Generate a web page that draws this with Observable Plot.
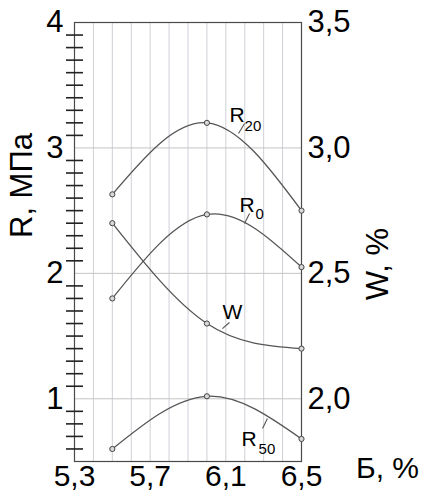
<!DOCTYPE html>
<html>
<head>
<meta charset="utf-8">
<script src="https://cdn.jsdelivr.net/npm/d3@7"></script>
<script src="https://cdn.jsdelivr.net/npm/@observablehq/plot@0.6"></script>
<style>
  html, body { margin: 0; padding: 0; background: #fff; }
  svg { display: block; }
</style>
</head>
<body>
<div id="chart"></div>
<script>
// Binder content Б, %
const bValues = [5.5, 6.0, 6.5];
// Strength R, MPa
const r20 = [2.63, 3.20, 2.50];
const r0 = [1.80, 2.47, 2.05];
const r50 = [0.60, 1.02, 0.68];
// Water absorption W, %
const wValues = [2.70, 2.30, 2.20];

// Axis ticks
const xTickLabels = [5.3, 5.7, 6.1, 6.5];
const xGrid = [5.4, 5.5, 5.6, 5.7, 5.8, 5.9, 6.0, 6.1, 6.2, 6.3, 6.4];
const rTicks = [1, 2, 3, 4];
const rMinorTicks = [0.6,0.7,0.8,0.9,1.1,1.2,1.3,1.4,1.5,1.6,1.7,1.8,1.9,2.1,2.2,2.3,2.4,2.5,2.6,2.7,2.8,2.9,3.1,3.2,3.3,3.4,3.5,3.6,3.7,3.8,3.9];
const wTicks = [2.0, 2.5, 3.0, 3.5];
const rGrid = [1, 2, 3];

// Curve label annotations (data units: x = Б, y = R scale)
const labelMain = [
  {t: "R", x: 6.119, y: 3.259},
  {t: "R", x: 6.172, y: 2.541},
  {t: "W", x: 6.082, y: 1.692},
  {t: "R", x: 6.183, y: 0.679}
];
const labelSub = [
  {t: "20", x: 6.199, y: 3.175},
  {t: "0", x: 6.257, y: 2.470},
  {t: "50", x: 6.273, y: 0.600}
];
const leaders = [
  {x1: 6.167, y1: 3.115, x2: 6.199, y2: 3.195},
  {x1: 6.199, y1: 2.397, x2: 6.225, y2: 2.477},
  {x1: 6.082, y1: 1.560, x2: 6.119, y2: 1.608},
  {x1: 6.320, y1: 0.843, x2: 6.294, y2: 0.763}
];

// W is drawn on the shared vertical scale: R = 2·W − 3 (W 2,0 ↔ R 1; W 3,5 ↔ R 4)
const wToR = w => 2 * w - 3;
const rToW = r => (r + 3) / 2;
const comma = (v, digits) => v.toFixed(digits).replace(".", ",");

const series = [
  ...bValues.map((b, i) => ({s: "R20", b, v: r20[i]})),
  ...bValues.map((b, i) => ({s: "R0", b, v: r0[i]})),
  ...bValues.map((b, i) => ({s: "R50", b, v: r50[i]})),
  ...bValues.map((b, i) => ({s: "W", b, v: wToR(wValues[i])}))
];

const lineColor = "#555";
const font = "'Liberation Sans', Arial, sans-serif";

const chart = Plot.plot({
  width: 424,
  height: 494,
  marginLeft: 74,
  marginRight: 123,
  marginTop: 22,
  marginBottom: 33,
  style: {fontFamily: font, background: "#fff", color: "#000"},
  x: {domain: [5.3, 6.5], label: null},
  y: {domain: [0.5, 4], label: null},
  marks: [
    Plot.gridX(xGrid, {stroke: "#cdd0d6", strokeOpacity: 1, strokeWidth: 1}),
    Plot.gridY(rGrid, {stroke: "#c4c4c4", strokeOpacity: 1, strokeWidth: 1}),
    Plot.frame({stroke: "#4a4a4a", strokeWidth: 1.2}),
    // short minor ticks crossing the left axis (frame width 227 px)
    Plot.tickY(rMinorTicks, {y: d => d, dx: -8, insetRight: 210, stroke: "#222", strokeWidth: 1.6, strokeOpacity: 1}),
    Plot.axisY(rTicks, {anchor: "left", tickSize: 0, tickPadding: 11, fontSize: 31, tickFormat: d => String(d), label: null}),
    Plot.axisY(wTicks.map(wToR), {anchor: "right", tickSize: 0, tickPadding: 6, fontSize: 31, tickFormat: d => comma(rToW(d), 1), label: null}),
    Plot.axisX(xTickLabels, {anchor: "bottom", tickSize: 0, tickPadding: 3, fontSize: 30, tickFormat: d => comma(d, 1), label: null}),
    Plot.line(series, {x: "b", y: "v", z: "s", curve: "natural", stroke: lineColor, strokeWidth: 1.3}),
    Plot.dot(series, {x: "b", y: "v", r: 2.6, stroke: "#444", fill: "#d8d8d8", strokeWidth: 1}),
    Plot.link(leaders, {x1: "x1", y1: "y1", x2: "x2", y2: "y2", stroke: lineColor, strokeWidth: 1.1}),
    Plot.text(labelMain, {x: "x", y: "y", text: "t", textAnchor: "start", fontSize: 21, fill: "#000"}),
    Plot.text(labelSub, {x: "x", y: "y", text: "t", textAnchor: "start", fontSize: 15, fill: "#000"}),
    Plot.text(["R, МПа"], {frameAnchor: "left", dx: -52, dy: -4, rotate: -90, fontSize: 31, fill: "#000"}),
    Plot.text(["W, %"], {frameAnchor: "right", dx: 77, dy: -14, rotate: -90, fontSize: 31, fill: "#000"}),
    Plot.text(["Б, %"], {frameAnchor: "bottom-right", dx: 86, dy: 16, textAnchor: "middle", fontSize: 30, fill: "#000"})
  ]
});

document.getElementById("chart").appendChild(chart);
</script>
</body>
</html>
